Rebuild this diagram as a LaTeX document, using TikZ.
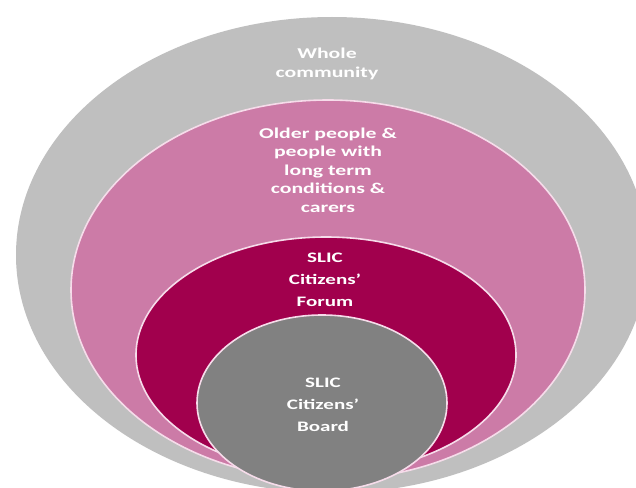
\documentclass[tikz,border=0pt]{standalone}
\usepackage{fontspec}
\newfontfamily\ringfont{Carlito}[FakeStretch=1.45]
\usetikzlibrary{shapes.geometric,positioning}
\definecolor{wholegray}{HTML}{BFBFBF}
\definecolor{olderpink}{HTML}{CC7BA7}
\definecolor{forumred}{HTML}{A1004D}
\definecolor{boardgray}{HTML}{818181}
\definecolor{rimpink}{HTML}{F6DCEA}

\begin{document}
\begin{tikzpicture}[
                        x=1pt, y=-1pt,
                        ring/.style={ellipse, inner sep=0pt, outer sep=0pt},
                        rim/.style={ring, draw=rimpink, line width=1.6pt},
                        lbl/.style={text=white, align=center, inner sep=0pt,
                            font=\ringfont\bfseries\fontsize{15}{18.5}\selectfont},
                        slic/.style={lbl, font=\ringfont\bfseries\fontsize{14.5}{22}\selectfont}
                    ]
                    % Frame
                    \fill [white] (0,0) rectangle (636,487);
                    \useasboundingbox (0,0) rectangle (636,487);

                    % Rings
                    \node [ring, fill=wholegray, minimum width=632pt, minimum height=476pt] (whole) at (332,255) {};
                    \node [rim, fill=olderpink, minimum width=514pt, minimum height=380pt] (older) at (328,290) {};
                    \node [rim, fill=forumred, minimum width=380pt, minimum height=236pt] (forum) at (326,355) {};
                    \node [rim, fill=boardgray, minimum width=250pt, minimum height=176pt] (board) at (322,403) {};

                    % Labels
                    \node [lbl] (wholelbl) at (327,64) {Whole\\community};
                    \node [lbl] (olderlbl) at (328,170) {Older people \&\\people with\\long term\\conditions \&\\carers};
                    \node [slic] (forumlbl) at (325,280) {SLIC\\Citizens’\\Forum};
                    \node [slic] (boardlbl) at (323,405) {SLIC\\Citizens’\\Board};
                \end{tikzpicture}
\end{document}
